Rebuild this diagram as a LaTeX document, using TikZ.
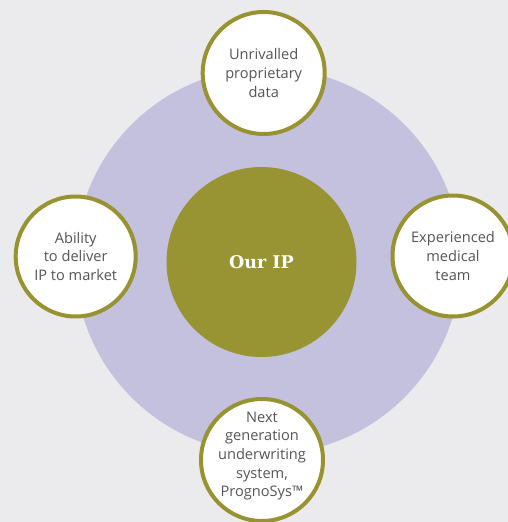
\documentclass[tikz,border=0pt]{standalone}
\usepackage{fontspec}
\setmainfont{Open Sans}
\newfontfamily\slabfont{DejaVu Serif}
\definecolor{pagebg}{HTML}{EBEBED}
\definecolor{lavender}{HTML}{C4C1DE}
\definecolor{olive}{HTML}{999433}
\definecolor{ring}{HTML}{989230}
\definecolor{textgray}{HTML}{555557}
\tikzset{
  labeltext/.style={text=textgray, align=center,
    font=\fontsize{14.6}{18.6}\selectfont},
  pillar/.style={circle, draw=ring, line width=4pt, fill=white,
    minimum size=#1, inner sep=0pt, labeltext},
  core/.style={circle, fill=olive, minimum size=190pt, inner sep=0pt,
    text=white, font=\slabfont\bfseries\fontsize{17.5}{20}\selectfont},
}
\begin{document}
\begin{tikzpicture}[x=1pt,y=-1pt]
  \useasboundingbox (0,0) rectangle (508,522);
  \clip (0,0) rectangle (508,522);
  \fill[pagebg] (0,0) rectangle (508,522);
  % outer ring of the model
  \node[circle, fill=lavender, minimum size=386pt, inner sep=0pt] (orbit) at (268,261) {};
  \node[core] (ip) at (261.5,262) {Our IP};
  % the four pillars around the core
  \node[pillar=122pt] (data) at (263.7,73) {Unrivalled\\proprietary\\data};
  \node[pillar=120pt] (deliver) at (75.7,256.5) {Ability\\to deliver\\IP to market};
  \node[pillar=121pt] (medical) at (453,256) {Experienced\\medical\\team};
  \node[pillar=122pt] (system) at (262,460) {};
  \node[labeltext] (systemtext) at (262,456) {Next\\generation\\underwriting\\system,\\PrognoSys™};
\end{tikzpicture}
\end{document}
